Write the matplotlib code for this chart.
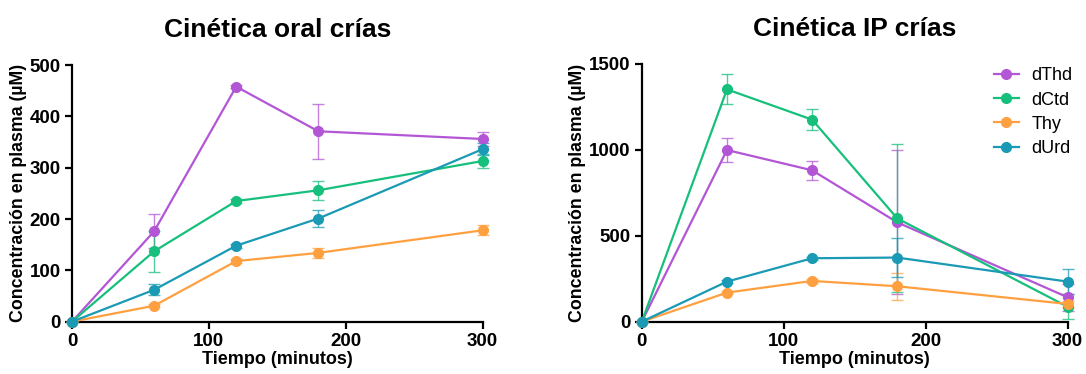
import matplotlib.pyplot as plt
from matplotlib.colors import to_rgba

plt.rcParams['font.family'] = ['Liberation Sans', 'DejaVu Sans']

# Tiempos de muestreo (minutos)
tiempo = [0, 60, 120, 180, 300]

series = ['dThd', 'dCtd', 'Thy', 'dUrd']
colores = ['#b356d6', '#16c07c', '#ffa040', '#1a9ab4']

# Administración oral: medias y errores (µM)
oral_dThd = [0, 176, 458, 371, 356]
oral_dThd_err = [0, 33, 3, 54, 14]
oral_dCtd = [0, 137, 235, 256, 313]
oral_dCtd_err = [0, 40, 4, 18, 13]
oral_Thy = [0, 31, 118, 134, 178]
oral_Thy_err = [0, 3, 4, 10, 10]
oral_dUrd = [0, 62, 148, 201, 336]
oral_dUrd_err = [0, 11, 4, 16, 12]

# Administración IP: medias y errores (µM)
ip_dThd = [0, 999, 881, 578, 142]
ip_dThd_err = [0, 72, 54, 420, 80]
ip_dCtd = [0, 1352, 1176, 601, 87]
ip_dCtd_err = [0, 88, 60, 431, 73]
ip_Thy = [0, 169, 237, 206, 103]
ip_Thy_err = [0, 8, 10, 79, 20]
ip_dUrd = [0, 233, 369, 373, 233]
ip_dUrd_err = [0, 8, 10, 112, 72]

oral = [(oral_dThd, oral_dThd_err), (oral_dCtd, oral_dCtd_err),
        (oral_Thy, oral_Thy_err), (oral_dUrd, oral_dUrd_err)]
ip = [(ip_dThd, ip_dThd_err), (ip_dCtd, ip_dCtd_err),
      (ip_Thy, ip_Thy_err), (ip_dUrd, ip_dUrd_err)]

fig = plt.figure(figsize=(10.86, 3.74), dpi=100)
ax1 = fig.add_axes([0.0663, 0.140, 0.378, 0.686])
ax2 = fig.add_axes([0.591, 0.140, 0.392, 0.689])


def dibujar(ax, datos, titulo, ymax, paso):
    for nombre, color, (media, err) in zip(series, colores, datos):
        ax.errorbar(tiempo, media, yerr=err, color=color,
                    ecolor=to_rgba(color, 0.75),
                    elinewidth=1, capsize=4, capthick=1, linewidth=1.6,
                    marker='o', markersize=7, label=nombre, clip_on=False,
                    zorder=3)
    ax.set_xlim(0, 300)
    ax.set_ylim(0, ymax)
    ax.set_xticks([0, 100, 200, 300])
    ax.set_yticks(range(0, ymax + 1, paso))
    for s in ['top', 'right']:
        ax.spines[s].set_visible(False)
    for s in ['left', 'bottom']:
        ax.spines[s].set_linewidth(1.6)
    ax.tick_params(direction='out', length=5, width=1.6, labelsize=13.5, pad=3)
    for lbl in ax.get_xticklabels() + ax.get_yticklabels():
        lbl.set_fontweight('bold')
    ax.set_xlabel('Tiempo (minutos)', fontsize=13, fontweight='bold', labelpad=1)
    ax.set_ylabel('Concentración en plasma (µM)', fontsize=12.8, fontweight='bold',
                  labelpad=2)
    ax.set_title(titulo, fontsize=19, fontweight='bold', pad=20)


dibujar(ax1, oral, 'Cinética oral crías', 500, 100)
dibujar(ax2, ip, 'Cinética IP crías', 1500, 500)

h, l = ax2.get_legend_handles_labels()
h = [x[0] for x in h]
ax2.legend(h, l, loc='upper right', bbox_to_anchor=(1.05, 1.05), frameon=False,
           fontsize=13, handlelength=1.4, handletextpad=0.7, labelspacing=0.4)

fig.savefig('out.png', dpi=100)
